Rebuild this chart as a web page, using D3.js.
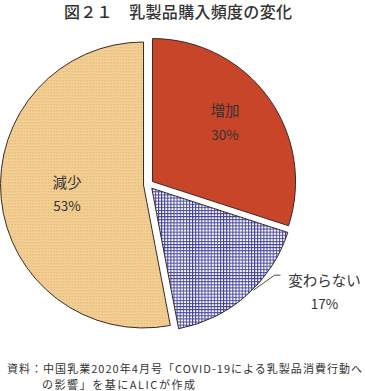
<!DOCTYPE html>
<html><head><meta charset="utf-8">
<script src="https://cdn.jsdelivr.net/npm/d3@7"></script>
<style>
html,body{margin:0;padding:0;background:#fff;}
svg{display:block;}
text{font-family:"Noto Sans CJK JP","Noto Sans",sans-serif;fill:#333;}
</style></head>
<body>
<script>
const categories = ["増加", "変わらない", "減少"];
const values = [30, 17, 53];
const percentLabels = ["30%", "17%", "53%"];
const title = "図２１　乳製品購入頻度の変化";
const sourceLines = ["資料：中国乳業2020年4月号「COVID-19による乳製品消費行動へ", "の影響」を基にALICが作成"];

const W = 365, H = 391;
const cx = 148.5, cy = 184.5, R = 143, explode = 5;

const svg = d3.select("body").append("svg").attr("width", W).attr("height", H);
const defs = svg.append("defs");

// tan dotted pattern
const pt = defs.append("pattern").attr("id", "tanPat").attr("patternUnits", "userSpaceOnUse")
  .attr("width", 3).attr("height", 3);
pt.append("rect").attr("width", 3).attr("height", 3).attr("fill", "#F7D79F");
pt.append("rect").attr("width", 1.4).attr("height", 1.4).attr("fill", "#E2B06C");
pt.append("rect").attr("x", 1.5).attr("y", 1.5).attr("width", 1.4).attr("height", 1.4).attr("fill", "#EEC685");

// blue grid pattern
const pb = defs.append("pattern").attr("id", "bluePat").attr("patternUnits", "userSpaceOnUse")
  .attr("width", 3.1).attr("height", 3.1);
pb.append("rect").attr("width", 3.1).attr("height", 3.1).attr("fill", "#FFFFFF");
pb.append("rect").attr("width", 1).attr("height", 3.1).attr("fill", "#40409E");
pb.append("rect").attr("width", 3.1).attr("height", 1).attr("fill", "#40409E");

const fills = ["#C9452A", "url(#bluePat)", "url(#tanPat)"];

const pie = d3.pie().sort(null).startAngle(0).endAngle(2 * Math.PI)(values);
const arc = d3.arc().innerRadius(0).outerRadius(R);

const g = svg.append("g").attr("transform", `translate(${cx},${cy})`);

function pt2(a, r) { return [r * Math.sin(a), -r * Math.cos(a)]; }

// label placement: [angle (deg), radius] relative to each exploded slice
const labelPlace = [[50.4, 94], [120.8, 201], [263.7, 77]];

pie.forEach((d, i) => {
  const mid = (d.startAngle + d.endAngle) / 2;
  const off = pt2(mid, explode);
  const sg = g.append("g").attr("transform", `translate(${off[0]},${off[1]})`);
  sg.append("path").attr("d", arc(d)).attr("fill", fills[i])
    .attr("stroke", "#3a2a22").attr("stroke-width", 1);
  const lp = pt2(labelPlace[i][0] * Math.PI / 180, labelPlace[i][1]);
  sg.append("text").attr("x", lp[0]).attr("y", lp[1] - 12).attr("text-anchor", "middle")
    .attr("dominant-baseline", "central").attr("font-size", 14.5).text(categories[i]);
  sg.append("text").attr("x", lp[0]).attr("y", lp[1] + 12).attr("text-anchor", "middle")
    .attr("dominant-baseline", "central").attr("font-size", 13.5).text(percentLabels[i]);
  if (i === 1) {
    const a0 = pt2(135 * Math.PI / 180, R + 1);
    const lx = lp[0] - 44;
    const ly = lp[1] - 16;
    sg.append("path").attr("d", `M${a0[0]},${a0[1]}L${lx - 6},${ly}L${lx},${ly}`)
      .attr("fill", "none").attr("stroke", "#333").attr("stroke-width", 0.9);
  }
});

svg.append("text").attr("x", 178).attr("y", 11).attr("text-anchor", "middle")
  .attr("dominant-baseline", "central").attr("font-size", 16).attr("font-weight", 500)
  .attr("fill", "#222").attr("textLength", 228).attr("lengthAdjust", "spacing").text(title);

svg.append("text").attr("x", 7).attr("y", 373).attr("font-size", 11).attr("fill", "#222")
  .attr("textLength", 355).attr("lengthAdjust", "spacing").text(sourceLines[0]);
svg.append("text").attr("x", 42).attr("y", 389).attr("font-size", 11).attr("fill", "#222")
  .attr("textLength", 153).attr("lengthAdjust", "spacing").text(sourceLines[1]);
</script>
</body></html>
